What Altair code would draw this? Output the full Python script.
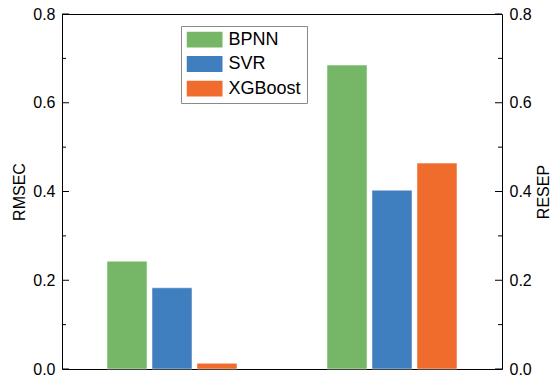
import altair as alt
import pandas as pd

# Error metrics of the three regression models
groups = ["RMSEC", "RESEP"]
models = ["BPNN", "SVR", "XGBoost"]
rmsec = [0.243, 0.183, 0.013]
resep = [0.685, 0.403, 0.464]
colors = ["#75B766", "#3F7FBF", "#F06C2C"]

major_ticks = [0.0, 0.2, 0.4, 0.6, 0.8]
minor_ticks = [0.1, 0.3, 0.5, 0.7]

W, H = 440, 355
FONT = "Liberation Sans"

df = pd.DataFrame({
    "group": [g for g in groups for _ in models],
    "model": models * 2,
    "value": rmsec + resep,
})

y_scale = alt.Scale(domain=[0, 0.8], nice=False, zero=True)
x_enc = alt.X("group:N", scale=alt.Scale(domain=groups, paddingInner=0, paddingOuter=0), axis=None)
xoff_enc = alt.XOffset("model:N", scale=alt.Scale(domain=models, paddingInner=0.11, paddingOuter=1))
color_enc = alt.Color(
    "model:N",
    scale=alt.Scale(domain=models, range=colors),
    legend=alt.Legend(
        title=None, orient="none", legendX=119, legendY=12,
        symbolType="M-1,-0.45H1V0.45H-1Z", symbolSize=1296, clipHeight=16,
        symbolStrokeWidth=0, symbolOpacity=1,
        rowPadding=6.5, padding=5.5, labelOffset=6,
        labelFont=FONT, labelFontSize=18, labelColor="black",
        strokeColor="#8a8a8a", fillColor="white",
    ),
)

axis_style = dict(
    values=major_ticks, format=".1f", ticks=False, domain=False, grid=False,
    labelPadding=7, labelFont=FONT, labelFontSize=16, labelColor="black",
    titleFont=FONT, titleFontSize=16, titleFontWeight="normal",
    titleColor="black", titleAngle=270,
)
left_axis = alt.Axis(orient="left", title="RMSEC", titlePadding=5, **axis_style)
right_axis = alt.Axis(orient="right", title="RESEP", titleBaseline="top", titleX=33, **axis_style)


def bars(group, axis):
    return (
        alt.Chart(df)
        .transform_filter(alt.datum.group == group)
        .mark_bar(stroke="white", strokeOpacity=0.5, strokeWidth=1)
        .encode(
            x=x_enc,
            xOffset=xoff_enc,
            y=alt.Y("value:Q", scale=y_scale, axis=axis),
            color=color_enc,
        )
    )


def ticks(vals, x0, x1):
    return (
        alt.Chart(pd.DataFrame({"v": vals}))
        .mark_rule(color="black", strokeWidth=1)
        .encode(y=alt.Y("v:Q", scale=y_scale, axis=None), x=alt.value(x0), x2=alt.value(x1))
    )


chart = (
    alt.layer(
        bars("RMSEC", left_axis),
        bars("RESEP", right_axis),
        ticks(major_ticks, 0, 7),
        ticks(minor_ticks, 0, 4),
        ticks(major_ticks, W, W - 7),
        ticks(minor_ticks, W, W - 4),
    )
    .resolve_scale(y="independent")
    .properties(
        width=W, height=H,
        autosize=alt.AutoSizeParams(type="none"),
        padding={"left": 62, "top": 14, "right": 51, "bottom": 11},
        background="white",
    )
    .configure_view(stroke="black", strokeWidth=1)
)

chart.save("out.html", embed_options={"renderer": "svg", "actions": False})
